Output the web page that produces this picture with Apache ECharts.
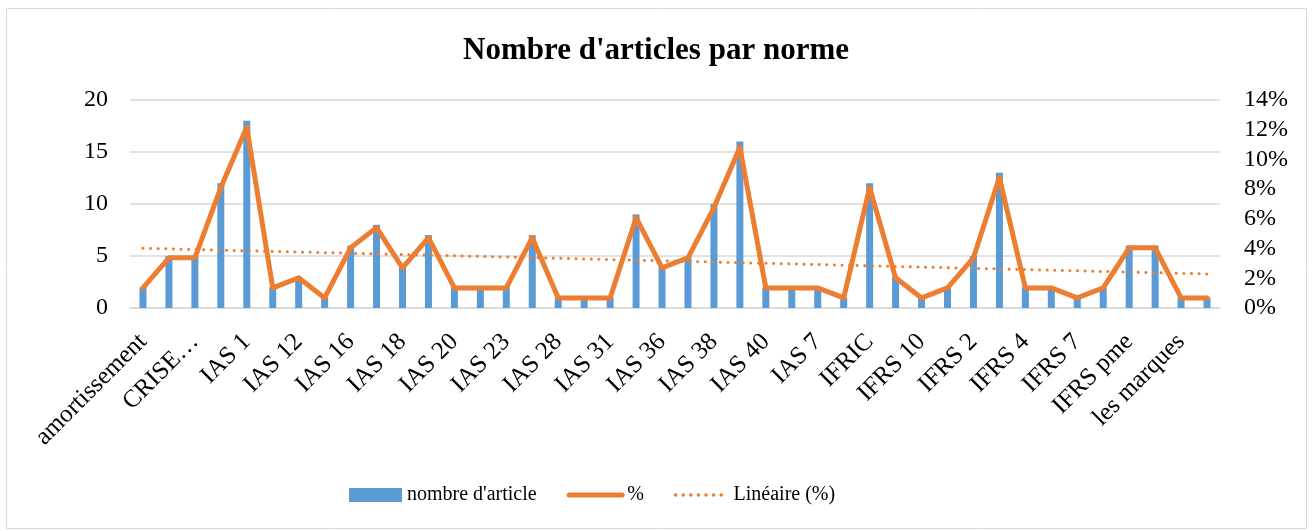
<!DOCTYPE html>
<html lang="fr">
<head>
    <meta charset="UTF-8">
    <title>Nombre d'articles par norme</title>
    <style>
        html, body { margin: 0; padding: 0; background: #fff; }
    </style>
</head>
<body>
<div id="chart-wrap" style="width: 1312px;height: 531px;"></div>
<script src="https://cdn.jsdelivr.net/npm/echarts@6/dist/echarts.min.js"></script>
<script>
    // catégories (une étiquette sur deux est affichée, comme dans Excel)
    var categories = [
        'amortissement', 'B', 'CRISE…', 'CRISE 2', 'IAS 1', 'IAS 10', 'IAS 12', 'IAS 13',
        'IAS 16', 'IAS 17', 'IAS 18', 'IAS 19', 'IAS 20', 'IAS 21', 'IAS 23', 'IAS 27',
        'IAS 28', 'IAS 29', 'IAS 31', 'IAS 32', 'IAS 36', 'IAS 37', 'IAS 38', 'IAS 39',
        'IAS 40', 'IAS 41', 'IAS 7', 'IAS 8', 'IFRIC', 'IFRS 1', 'IFRS 10', 'IFRS 13',
        'IFRS 2', 'IFRS 3', 'IFRS 4', 'IFRS 5', 'IFRS 7', 'IFRS 9', 'IFRS pme', 'juste valeur',
        'les marques', 'provisions'
    ];

    // nombre d'article
    var nbArticles = [
        2, 5, 5, 12, 18, 2, 3, 1, 6, 8, 4, 7, 2, 2,
        2, 7, 1, 1, 1, 9, 4, 5, 10, 16, 2, 2, 2, 1,
        12, 3, 1, 2, 5, 13, 2, 2, 1, 2, 6, 6, 1, 1
    ];

    var pourcentages = [
        1.35, 3.38, 3.38, 8.11, 12.16, 1.35, 2.03, 0.68, 4.05, 5.41, 2.70, 4.73, 1.35, 1.35,
        1.35, 4.73, 0.68, 0.68, 0.68, 6.08, 2.70, 3.38, 6.76, 10.81, 1.35, 1.35, 1.35, 0.68,
        8.11, 2.03, 0.68, 1.35, 3.38, 8.78, 1.35, 1.35, 0.68, 1.35, 4.05, 4.05, 0.68, 0.68
    ];

    // tendance linéaire : valeurs lues aux deux extrémités
    var tendanceDebut = 4.02;
    var tendanceFin = 2.29;

    var tendance = categories.map(function (c, i) {
        if (i === 0) return tendanceDebut;
        if (i === categories.length - 1) return tendanceFin;
        return null;
    });

    var police = '"Liberation Serif", "Times New Roman", serif';
    var bleu = '#5B9BD5';
    var orange = '#ED7D31';

    var chart = echarts.init(document.getElementById('chart-wrap'));

    var option = {
        animation: false,
        textStyle: { fontFamily: police, color: '#000' },
        title: {
            text: "Nombre d'articles par norme",
            left: 'center',
            top: 30,
            textStyle: { fontFamily: police, fontSize: 31, fontWeight: 'bold', color: '#000' }
        },
        graphic: [{
            type: 'rect',
            shape: { x: 6.5, y: 8.5, width: 1300, height: 520 },
            style: { fill: 'none', stroke: '#d9d9d9', lineWidth: 1 },
            silent: true
        }],
        legend: {
            bottom: 21,
            left: 344,
            itemWidth: 53,
            itemHeight: 14,
            itemGap: 30,
            textStyle: { fontFamily: police, fontSize: 20, color: '#000' },
            data: [
                { name: "nombre d'article", icon: 'rect' },
                { name: '%', itemStyle: { opacity: 0 }, lineStyle: { width: 5 } },
                { name: 'Linéaire (%)', itemStyle: { opacity: 0 }, lineStyle: { width: 3.5 } }
            ]
        },
        grid: { left: 130, right: 92, top: 100, bottom: 223 },
        xAxis: {
            type: 'category',
            data: categories,
            axisTick: { show: false },
            axisLine: { lineStyle: { color: '#d9d9d9', width: 1.5 } },
            axisLabel: {
                interval: 1,
                rotate: 45,
                margin: 30,
                fontFamily: police,
                fontSize: 25,
                color: '#000'
            }
        },
        yAxis: [{
            type: 'value',
            min: 0,
            max: 20,
            interval: 5,
            axisLine: { show: false },
            axisTick: { show: false },
            axisLabel: { fontFamily: police, fontSize: 24, color: '#000', margin: 22 },
            splitLine: { lineStyle: { color: '#d9d9d9', width: 1.5 } }
        }, {
            type: 'value',
            min: 0,
            max: 14,
            interval: 2,
            position: 'right',
            axisLine: { show: false },
            axisTick: { show: false },
            splitLine: { show: false },
            axisLabel: { formatter: '{value}%', fontFamily: police, fontSize: 24, color: '#000', margin: 24 }
        }],
        series: [{
            name: "nombre d'article",
            type: 'bar',
            data: nbArticles,
            barWidth: 7,
            itemStyle: { color: bleu }
        }, {
            name: '%',
            type: 'line',
            yAxisIndex: 1,
            data: pourcentages,
            symbol: 'none',
            lineStyle: { color: orange, width: 5, cap: 'round', join: 'round' },
            itemStyle: { color: orange }
        }, {
            name: 'Linéaire (%)',
            type: 'line',
            yAxisIndex: 1,
            data: tendance,
            connectNulls: true,
            symbol: 'none',
            lineStyle: { color: orange, width: 3, type: [0.1, 7.5], cap: 'round' },
            itemStyle: { color: orange },
            z: 3
        }]
    };

    chart.setOption(option);
</script>
</body>
</html>
